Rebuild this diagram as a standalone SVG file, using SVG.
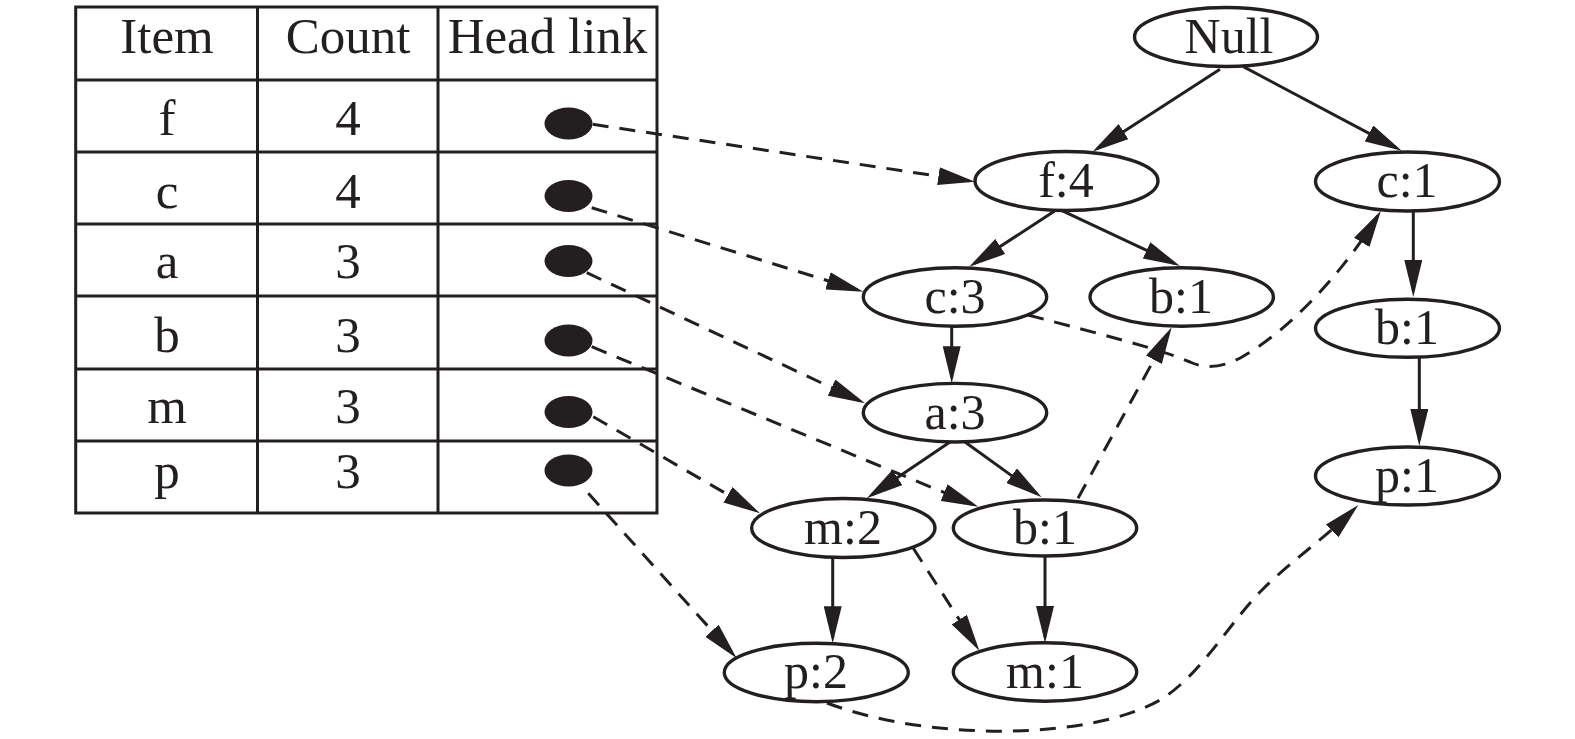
<svg xmlns="http://www.w3.org/2000/svg" width="1575" height="739" viewBox="0 0 1575 739">
<style>
.t{font-family:"Liberation Serif","Times New Roman",serif;font-size:51px;fill:#231f20;text-anchor:middle}
.n{font-family:"Liberation Serif","Times New Roman",serif;font-size:50px;fill:#231f20;text-anchor:middle}
.grid{fill:none;stroke:#231f20;stroke-width:3}
.node ellipse{fill:#fff;stroke:#231f20;stroke-width:3.4}
.dot{fill:#231f20}
.e{fill:none;stroke:#231f20;stroke-width:3;marker-end:url(#arr)}
.d{fill:none;stroke:#231f20;stroke-width:3;stroke-dasharray:16 11;marker-end:url(#arr)}
</style>
<defs>
<marker id="arr" markerUnits="userSpaceOnUse" markerWidth="38" markerHeight="18" refX="31" refY="9" orient="auto">
<path d="M0,0 L37,9 L0,18 z" fill="#231f20"/>
</marker>
</defs>
<rect width="1575" height="739" fill="#fff"/>
<g id="table">
<rect class="grid" x="75.7" y="7" width="581.3" height="506"/>
<line class="grid" x1="257.5" y1="7" x2="257.5" y2="513"/>
<line class="grid" x1="438" y1="7" x2="438" y2="513"/>
<line class="grid" x1="75.7" y1="80" x2="657" y2="80"/>
<line class="grid" x1="75.7" y1="152" x2="657" y2="152"/>
<line class="grid" x1="75.7" y1="224" x2="657" y2="224"/>
<line class="grid" x1="75.7" y1="296" x2="657" y2="296"/>
<line class="grid" x1="75.7" y1="369" x2="657" y2="369"/>
<line class="grid" x1="75.7" y1="441" x2="657" y2="441"/>
<text class="t" x="167" y="53">Item</text>
<text class="t" x="348" y="53">Count</text>
<text class="t" x="547.5" y="53">Head link</text>
<text class="t" x="167" y="135">f</text><text class="t" x="348" y="135">4</text>
<text class="t" x="167" y="208">c</text><text class="t" x="348" y="208">4</text>
<text class="t" x="167" y="278">a</text><text class="t" x="348" y="278">3</text>
<text class="t" x="167" y="352">b</text><text class="t" x="348" y="352">3</text>
<text class="t" x="167" y="423">m</text><text class="t" x="348" y="423">3</text>
<text class="t" x="167" y="488">p</text><text class="t" x="348" y="488">3</text>
<ellipse class="dot" cx="568.5" cy="123.5" rx="24" ry="16"/>
<ellipse class="dot" cx="568.5" cy="196" rx="24" ry="16"/>
<ellipse class="dot" cx="568.5" cy="261" rx="24" ry="16"/>
<ellipse class="dot" cx="568.5" cy="340.5" rx="24" ry="16"/>
<ellipse class="dot" cx="568.5" cy="412" rx="24" ry="16"/>
<ellipse class="dot" cx="568.5" cy="470.5" rx="24" ry="16"/>
</g>
<g id="connectors">
<path class="e" d="M1220,69.3 L1097.5,148.4"/>
<path class="e" d="M1243.3,66.7 L1396.4,147.9"/>
<path class="e" d="M1055,210.7 L974.3,263.4"/>
<path class="e" d="M1062,210.7 L1174.6,263.5"/>
<path class="e" d="M951.7,326 L951.7,377.3"/>
<path class="e" d="M950,442 L871.7,494.9"/>
<path class="e" d="M965,442 L1036.8,493.8"/>
<path class="e" d="M1413.3,211 L1413.3,291"/>
<path class="e" d="M1419.3,357.3 L1419.3,440"/>
<path class="e" d="M832.7,557 L832.7,637.3"/>
<path class="e" d="M1045,557 L1045,637"/>
<path class="d" d="M592.7,124.3 L969.1,180.8"/>
<path class="d" d="M591.7,207.7 L857.6,289.9"/>
<path class="d" d="M586.7,272.7 L859.6,400.8"/>
<path class="d" d="M591.7,346.7 L972.8,504.4"/>
<path class="d" d="M593.3,416.7 L754.8,510.3"/>
<path class="d" d="M588.3,493.3 L732.7,653.8"/>
<path class="d" d="M1028,315 C1100,334 1160,349 1190,362 C1205,369 1222,368 1242,357 C1290,330 1345,270 1377.8,215.8"/>
<path class="d" d="M1078,498.3 L1168.8,332.6"/>
<path class="d" d="M913.3,548.3 L976.1,645.7"/>
<path class="d" d="M827,703 C930,742 1090,740 1160,700 C1200,676 1230,622 1262,590 C1290,562 1326,537 1354.1,509.2"/>
</g>
<g id="node-null" class="node"><ellipse cx="1226" cy="37" rx="91.5" ry="29.5"/><text class="n" x="1229" y="53">Null</text></g>
<g id="node-f4" class="node"><ellipse cx="1066.5" cy="181" rx="91.5" ry="29.5"/><text class="n" x="1066" y="197">f:4</text></g>
<g id="node-c1" class="node"><ellipse cx="1407.5" cy="181.5" rx="92" ry="29.5"/><text class="n" x="1407" y="197">c:1</text></g>
<g id="node-c3" class="node"><ellipse cx="955" cy="297" rx="91.7" ry="29.3"/><text class="n" x="955" y="313">c:3</text></g>
<g id="node-b1a" class="node"><ellipse cx="1181.7" cy="297" rx="91.7" ry="29.3"/><text class="n" x="1181" y="313">b:1</text></g>
<g id="node-b1r" class="node"><ellipse cx="1407.5" cy="328.3" rx="92" ry="29"/><text class="n" x="1407" y="344">b:1</text></g>
<g id="node-a3" class="node"><ellipse cx="955" cy="412.7" rx="91.7" ry="29.3"/><text class="n" x="955" y="429">a:3</text></g>
<g id="node-p1" class="node"><ellipse cx="1407.5" cy="476" rx="92" ry="29"/><text class="n" x="1407" y="492">p:1</text></g>
<g id="node-m2" class="node"><ellipse cx="843.3" cy="528" rx="91.7" ry="29.5"/><text class="n" x="843" y="544">m:2</text></g>
<g id="node-b1b" class="node"><ellipse cx="1045" cy="528" rx="91.7" ry="28"/><text class="n" x="1045" y="544">b:1</text></g>
<g id="node-p2" class="node"><ellipse cx="816.3" cy="672.5" rx="92" ry="29.2"/><text class="n" x="816" y="688">p:2</text></g>
<g id="node-m1" class="node"><ellipse cx="1045" cy="672" rx="91.7" ry="29.2"/><text class="n" x="1045" y="688">m:1</text></g>
</svg>
